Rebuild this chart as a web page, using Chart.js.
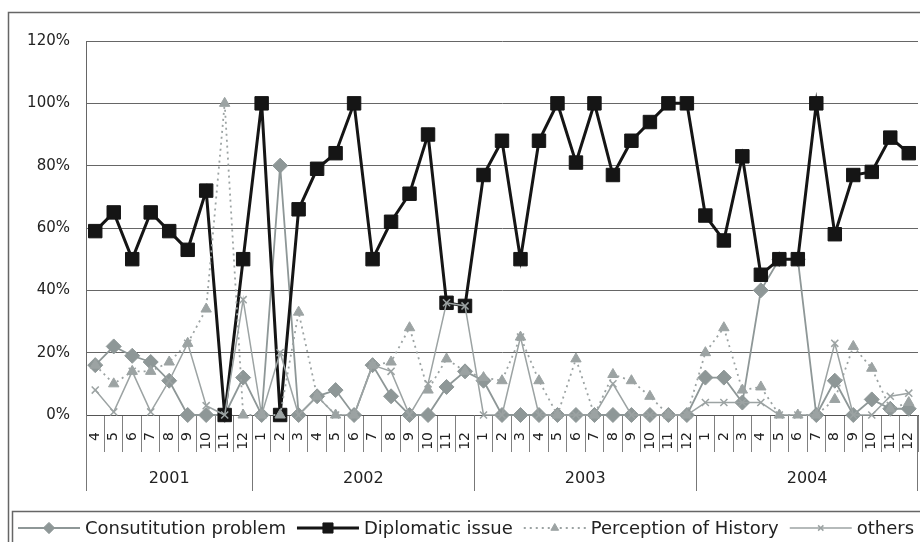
<!DOCTYPE html>
<html>
<head>
<meta charset="utf-8">
<script src="https://cdn.jsdelivr.net/npm/chart.js@4.4.1/dist/chart.umd.min.js"></script>
<style>
  html, body { margin: 0; padding: 0; background: #fff; }
</style>
</head>
<body>
<canvas id="myChart" width="920" height="542"></canvas>
<script>
// Share of each topic by month (%), Apr 2001 - Dec 2004
const years = ['2001', '2002', '2003', '2004'];
const months = [
    '4', '5', '6', '7', '8', '9', '10', '11', '12',
    '1', '2', '3', '4', '5', '6', '7', '8', '9', '10', '11', '12',
    '1', '2', '3', '4', '5', '6', '7', '8', '9', '10', '11', '12',
    '1', '2', '3', '4', '5', '6', '7', '8', '9', '10', '11', '12'];

const constitution = [16, 22, 19, 17, 11, 0, 0, 0, 12,
    0, 80, 0, 6, 8, 0, 16, 6, 0, 0, 9, 14,
    11, 0, 0, 0, 0, 0, 0, 0, 0, 0, 0, 0,
    12, 12, 4, 40, 50, 50, 0, 11, 0, 5, 2, 2];
const diplomatic = [59, 65, 50, 65, 59, 53, 72, 0, 50,
    100, 0, 66, 79, 84, 100, 50, 62, 71, 90, 36, 35,
    77, 88, 50, 88, 100, 81, 100, 77, 88, 94, 100, 100,
    64, 56, 83, 45, 50, 50, 100, 58, 77, 78, 89, 84];
const perception = [16, 10, 14, 14, 17, 23, 34, 100, 0,
    0, 0, 33, 6, 0, 0, 16, 17, 28, 8, 18, 14,
    12, 11, 25, 11, 0, 18, 0, 13, 11, 6, 0, 0,
    20, 28, 8, 9, 0, 0, 0, 5, 22, 15, 2, 4];
const others = [8, 1, 14, 1, 11, 23, 3, 0, 37,
    0, 20, 0, 6, 0, 0, 16, 14, 0, 10, 36, 35,
    0, 0, 25, 0, 0, 0, 0, 10, 0, 0, 0, 0,
    4, 4, 4, 4, 0, 0, 0, 23, 0, 0, 6, 7];

const yTicks = [0, 20, 40, 60, 80, 100, 120];

const grey = '#8e9797';
const FONT = '"DejaVu Sans", sans-serif';

const datasets = [
    { label: 'Consutitution problem', data: constitution, order: 4,
      borderColor: grey, backgroundColor: grey, borderWidth: 1.8,
      pointStyle: 'rectRot', pointRadius: 7.5, pointBorderWidth: 1 },
    { label: 'Diplomatic issue', data: diplomatic, order: 3,
      borderColor: '#151515', backgroundColor: '#151515', borderWidth: 3,
      pointStyle: 'rect', pointRadius: 9.5, pointBorderWidth: 1 },
    { label: 'Perception of History', data: perception, order: 2,
      borderColor: '#9ca3a3', backgroundColor: '#9ca3a3', borderWidth: 1.8, borderDash: [2, 4],
      pointStyle: 'triangle', pointRadius: 6, pointBorderWidth: 1 },
    { label: 'others', data: others, order: 1,
      borderColor: '#9ca3a3', backgroundColor: '#9ca3a3', borderWidth: 1.5,
      pointStyle: 'crossRot', pointRadius: 5, pointBorderWidth: 1.5 }
];
datasets.forEach(d => { d.tension = 0; d.clip = 14; });

// year groups under the month ticks, outer frame and the boxed legend
const framePlugin = {
    id: 'framePlugin',
    afterDraw(chart) {
        const ctx = chart.ctx;
        const xs = chart.scales.x;
        const area = chart.chartArea;
        const half = (xs.getPixelForValue(1) - xs.getPixelForValue(0)) / 2;

        ctx.save();
        ctx.strokeStyle = '#777';
        ctx.lineWidth = 1;
        ctx.fillStyle = '#222';
        ctx.font = '16px ' + FONT;
        ctx.textAlign = 'center';
        ctx.textBaseline = 'middle';
        let start = 0;
        years.forEach((yr, i) => {
            let end = start + 1;
            while (end < months.length && months[end] !== '1') end++;
            const x0 = xs.getPixelForValue(start) - half;
            const x1 = xs.getPixelForValue(end - 1) + half;
            ctx.beginPath();
            ctx.moveTo(Math.round(x0) + 0.5, area.bottom);
            ctx.lineTo(Math.round(x0) + 0.5, 491);
            if (i === years.length - 1) {
                ctx.moveTo(Math.round(x1) - 0.5, area.bottom);
                ctx.lineTo(Math.round(x1) - 0.5, 491);
            }
            ctx.stroke();
            ctx.fillText(yr, (x0 + x1) / 2, 479);
            start = end;
        });

        // frames
        ctx.strokeStyle = '#666';
        ctx.lineWidth = 1.5;
        ctx.strokeRect(8.5, 12.5, 960, 620);
        ctx.strokeRect(12.5, 511.5, 960, 100);

        // legend
        const ly = 528;
        let lx = 18;
        ctx.font = '18px ' + FONT;
        ctx.textAlign = 'left';
        chart.data.datasets.forEach(ds => {
            ctx.save();
            ctx.strokeStyle = ds.borderColor;
            ctx.fillStyle = ds.backgroundColor;
            ctx.lineWidth = ds.borderWidth;
            ctx.setLineDash(ds.borderDash || []);
            ctx.beginPath();
            ctx.moveTo(lx, ly);
            ctx.lineTo(lx + 62, ly);
            ctx.stroke();
            ctx.setLineDash([]);
            ctx.lineWidth = ds.pointBorderWidth;
            Chart.helpers.drawPoint(ctx, {
                pointStyle: ds.pointStyle,
                radius: ds.pointRadius * 0.75,
                rotation: 0,
                borderWidth: ds.pointBorderWidth
            }, lx + 31, ly);
            ctx.restore();
            ctx.fillStyle = '#222';
            ctx.fillText(ds.label, lx + 67, ly + 1);
            lx += 67 + ctx.measureText(ds.label).width + 11;
        });
        ctx.restore();
    }
};

const ctx = document.getElementById('myChart').getContext('2d');
new Chart(ctx, {
    type: 'line',
    data: { labels: months, datasets: datasets },
    options: {
        responsive: false,
        animation: false,
        events: [],
        layout: { autoPadding: false, padding: { left: 0, top: 41, right: 2, bottom: 0 } },
        plugins: { legend: { display: false }, tooltip: { enabled: false } },
        scales: {
            x: {
                offset: true,
                grid: { display: true, drawOnChartArea: false, offset: true,
                        tickLength: 37, color: '#808080', lineWidth: 1 },
                border: { display: true, color: '#555' },
                ticks: { autoSkip: false, minRotation: 90, maxRotation: 90, padding: -20,
                         color: '#222', font: { family: FONT, size: 14 } },
                afterFit(scale) {
                    scale.height = 127;
                    scale.paddingLeft = 0;
                    scale.paddingRight = 0;
                }
            },
            y: {
                min: 0, max: 120,
                afterBuildTicks(scale) { scale.ticks = yTicks.map(v => ({ value: v })); },
                grid: { color: '#666', lineWidth: 1, drawTicks: false },
                border: { display: true, color: '#666' },
                ticks: { padding: 16, color: '#222', font: { family: FONT, size: 15 },
                         callback: v => v + '%' },
                afterFit(scale) { scale.width = 86; }
            }
        }
    },
    plugins: [framePlugin]
});
</script>
</body>
</html>
